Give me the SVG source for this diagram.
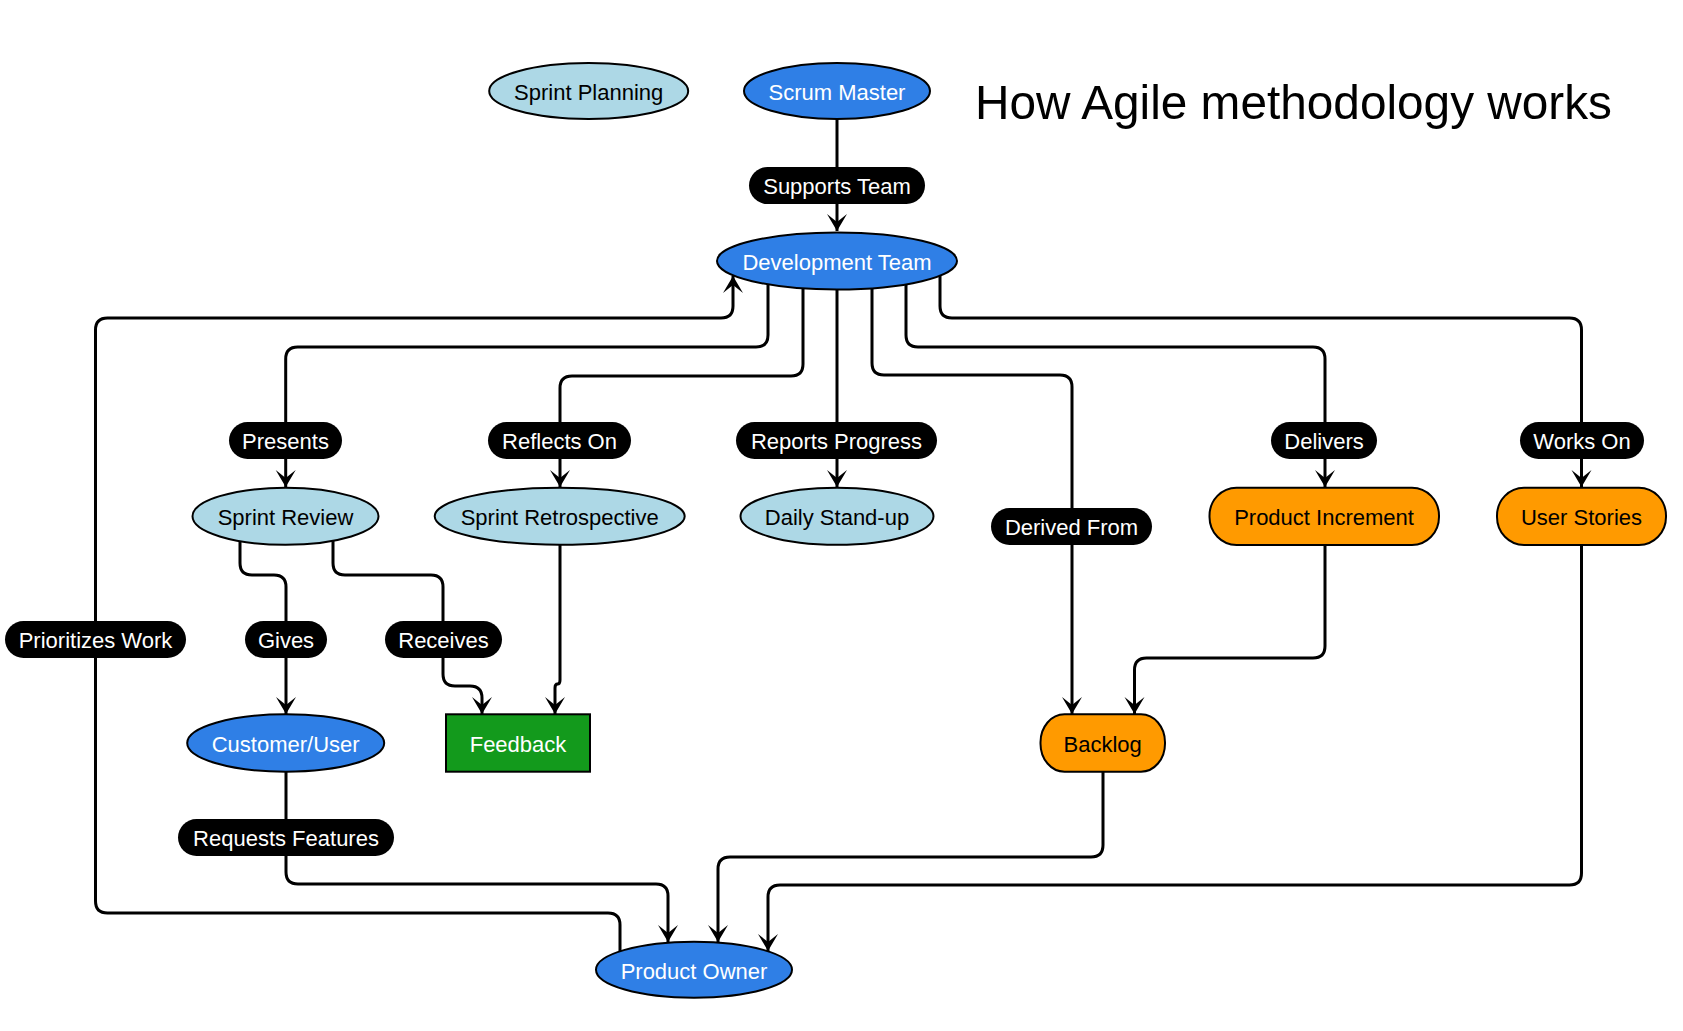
<svg xmlns="http://www.w3.org/2000/svg" width="1683" height="1031" viewBox="0 0 1683 1031">
<defs>
<marker id="arr" markerUnits="userSpaceOnUse" markerWidth="20" markerHeight="24" viewBox="-18 -12 20 24" refX="0" refY="0" orient="auto">
<path d="M0,0 L-17,-10 L-9,0 L-17,10 Z" fill="#000"/>
</marker>
<style>
text{font-family:"Liberation Sans",Arial,Helvetica,sans-serif;font-size:22px;text-anchor:middle}
.blue{fill:#2f7fe6;stroke:#000;stroke-width:2}
.lb{fill:#add8e6;stroke:#000;stroke-width:2}
.or{fill:#ff9a00;stroke:#000;stroke-width:2}
.gr{fill:#139a1c;stroke:#000;stroke-width:2}
.w{fill:#fff}
.k{fill:#000}
.e{fill:none;stroke:#000;stroke-width:3}
.ea{fill:none;stroke:#000;stroke-width:3;marker-end:url(#arr)}
.lab{fill:#000}
</style>
</defs>
<rect width="1683" height="1031" fill="#fff"/>
<text x="975" y="119" style="font-size:49px;text-anchor:start" textLength="637" lengthAdjust="spacingAndGlyphs">How Agile methodology works</text>

<g id="connectors">
<path class="ea" d="M837,119 L837,231"/>
<path class="ea" d="M620,951 L620,925 Q620,913 608,913 L107.5,913 Q95.5,913 95.5,901 L95.5,330 Q95.5,318 107.5,318 L721,318 Q733,318 733,306 L733,276"/>
<path class="ea" d="M768,284 L768,335 Q768,347 756,347 L297.7,347 Q285.7,347 285.7,359 L285.7,487"/>
<path class="ea" d="M803,288 L803,364 Q803,376 791,376 L572,376 Q560,376 560,388 L560,487"/>
<path class="ea" d="M837,289 L837,487"/>
<path class="ea" d="M872,288 L872,363 Q872,375 884,375 L1060,375 Q1072,375 1072,387 L1072,714"/>
<path class="ea" d="M906,284 L906,335 Q906,347 918,347 L1313,347 Q1325,347 1325,359 L1325,487"/>
<path class="ea" d="M940,275 L940,306 Q940,318 952,318 L1569.5,318 Q1581.5,318 1581.5,330 L1581.5,487"/>
<path class="ea" d="M240,541 L240,563 Q240,575 252,575 L274,575 Q286,575 286,587 L286,714"/>
<path class="ea" d="M333,541 L333,563 Q333,575 345,575 L431,575 Q443,575 443,587 L443,674 Q443,686 455,686 L470,686 Q482,686 482,698 L482,714"/>
<path class="ea" d="M560,545 L560,680 Q560,684 557.5,684 Q555,684 555,688 L555,714"/>
<path class="ea" d="M286,772 L286,872 Q286,884 298,884 L656,884 Q668,884 668,896 L668,942"/>
<path class="ea" d="M1325,545 L1325,646 Q1325,658 1313,658 L1146.5,658 Q1134.5,658 1134.5,670 L1134.5,714"/>
<path class="ea" d="M1103,772 L1103,845 Q1103,857 1091,857 L730,857 Q718,857 718,869 L718,942"/>
<path class="ea" d="M1581.5,545 L1581.5,873 Q1581.5,885 1569.5,885 L780,885 Q768,885 768,897 L768,951"/>
<g id="edge-labels">
<rect class="lab" x="749" y="167" width="176" height="37" rx="18.5"/><text class="w" x="837" y="194">Supports Team</text>
<rect class="lab" x="5" y="621" width="181" height="37" rx="18.5"/><text class="w" x="95.5" y="648">Prioritizes Work</text>
<rect class="lab" x="229" y="422" width="113" height="37" rx="18.5"/><text class="w" x="285.5" y="449">Presents</text>
<rect class="lab" x="488" y="422" width="143" height="37" rx="18.5"/><text class="w" x="559.5" y="449">Reflects On</text>
<rect class="lab" x="736" y="422" width="201" height="37" rx="18.5"/><text class="w" x="836.5" y="449">Reports Progress</text>
<rect class="lab" x="991" y="508" width="161" height="37" rx="18.5"/><text class="w" x="1071.5" y="535">Derived From</text>
<rect class="lab" x="1271" y="422" width="106" height="37" rx="18.5"/><text class="w" x="1324" y="449">Delivers</text>
<rect class="lab" x="1520" y="422" width="124" height="37" rx="18.5"/><text class="w" x="1582" y="449">Works On</text>
<rect class="lab" x="245" y="621" width="82" height="37" rx="18.5"/><text class="w" x="286" y="648">Gives</text>
<rect class="lab" x="385" y="621" width="117" height="37" rx="18.5"/><text class="w" x="443.5" y="648">Receives</text>
<rect class="lab" x="178" y="819" width="216" height="37" rx="18.5"/><text class="w" x="286" y="846">Requests Features</text>
</g>
</g>

<g id="sprint-planning"><ellipse class="lb" cx="588.7" cy="91" rx="99.5" ry="28"/><text class="k" x="588.7" y="100">Sprint Planning</text></g>
<g id="scrum-master"><ellipse class="blue" cx="837" cy="91" rx="93" ry="28"/><text class="w" x="837" y="100">Scrum Master</text></g>
<g id="development-team"><ellipse class="blue" cx="837" cy="261" rx="120" ry="28.5"/><text class="w" x="837" y="270">Development Team</text></g>
<g id="sprint-review"><ellipse class="lb" cx="285.5" cy="516.3" rx="93" ry="28.5"/><text class="k" x="285.5" y="525">Sprint Review</text></g>
<g id="sprint-retrospective"><ellipse class="lb" cx="559.7" cy="516.3" rx="125" ry="28.5"/><text class="k" x="559.7" y="525">Sprint Retrospective</text></g>
<g id="daily-standup"><ellipse class="lb" cx="837" cy="516.3" rx="96.5" ry="28.5"/><text class="k" x="837" y="525">Daily Stand-up</text></g>
<g id="product-increment"><rect class="or" x="1209.5" y="487.7" width="229.5" height="57.3" rx="27" ry="28"/><text class="k" x="1324" y="525">Product Increment</text></g>
<g id="user-stories"><rect class="or" x="1497" y="487.7" width="169" height="57.3" rx="27" ry="28"/><text class="k" x="1581.5" y="525">User Stories</text></g>
<g id="customer-user"><ellipse class="blue" cx="285.7" cy="743" rx="98.5" ry="28.7"/><text class="w" x="285.7" y="752">Customer/User</text></g>
<g id="feedback"><rect class="gr" x="446" y="714.3" width="144" height="57.4"/><text class="w" x="518" y="752">Feedback</text></g>
<g id="backlog"><rect class="or" x="1040.5" y="714.3" width="124.5" height="57.4" rx="24" ry="28"/><text class="k" x="1102.7" y="752">Backlog</text></g>
<g id="product-owner"><ellipse class="blue" cx="694" cy="969.7" rx="98" ry="28"/><text class="w" x="694" y="978.5">Product Owner</text></g>
</svg>
